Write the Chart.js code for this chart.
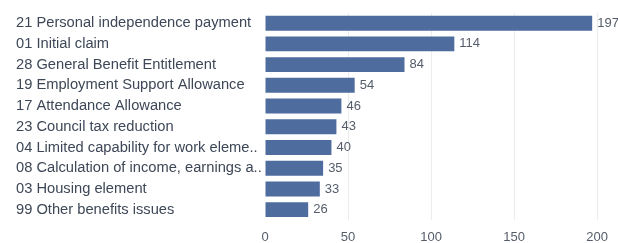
<!DOCTYPE html>
<html>
<head>
<meta charset="utf-8">
<script src="https://cdn.jsdelivr.net/npm/chart.js@4"></script>
<style>
  html, body { margin: 0; padding: 0; background: #fff; }
  #wrap { width: 618px; height: 243px; }
</style>
</head>
<body>
<div id="wrap"><canvas id="c" width="618" height="243"></canvas></div>
<script>
const categories = [
  "21 Personal independence payment",
  "01 Initial claim",
  "28 General Benefit Entitlement",
  "19 Employment Support Allowance",
  "17 Attendance Allowance",
  "23 Council tax reduction",
  "04 Limited capability for work eleme..",
  "08 Calculation of income, earnings a..",
  "03 Housing element",
  "99 Other benefits issues"
];
const values = [197, 114, 84, 54, 46, 43, 40, 35, 33, 26];
const xTicks = [0, 50, 100, 150, 200];

const valueLabels = {
  id: 'valueLabels',
  afterDatasetsDraw(chart) {
    const ctx = chart.ctx;
    const meta = chart.getDatasetMeta(0);
    ctx.save();
    ctx.font = '13px "Liberation Sans", Arial, sans-serif';
    ctx.fillStyle = '#555d6a';
    ctx.textAlign = 'left';
    ctx.textBaseline = 'middle';
    meta.data.forEach((bar, i) => {
      ctx.fillText(String(values[i]), bar.x + 5, bar.y);
    });
    ctx.restore();
  }
};

new Chart(document.getElementById('c'), {
  type: 'bar',
  data: {
    labels: categories,
    datasets: [{
      data: values,
      backgroundColor: '#4e6c9e',
      borderWidth: 0,
      categoryPercentage: 1.0,
      barPercentage: 0.72
    }]
  },
  options: {
    indexAxis: 'y',
    responsive: false,
    animation: false,
    layout: { padding: { left: 16, right: 19, top: 10, bottom: 0 } },
    plugins: { legend: { display: false }, tooltip: { enabled: false } },
    scales: {
      y: {
        grid: { display: false },
        border: { display: false },
        ticks: {
          autoSkip: false,
          crossAlign: 'far',
          color: '#3d4757',
          font: { family: '"Liberation Sans", Arial, sans-serif', size: 14.7 },
          padding: 4
        },
        afterFit(scale) { scale.width = 249; }
      },
      x: {
        min: 0,
        max: 200,
        afterBuildTicks(scale) { scale.ticks = xTicks.map(v => ({ value: v })); },
        grid: {
          color: (c) => c.tick && c.tick.value === 0 ? 'rgba(0,0,0,0)' : '#ececec',
          drawTicks: false,
          lineWidth: 1
        },
        border: { display: false },
        ticks: {
          autoSkip: false,
          color: '#555d6a',
          font: { family: '"Liberation Sans", Arial, sans-serif', size: 13 },
          padding: 10
        },
        afterFit(scale) { scale.height = 23; }
      }
    }
  },
  plugins: [valueLabels]
});
</script>
</body>
</html>
